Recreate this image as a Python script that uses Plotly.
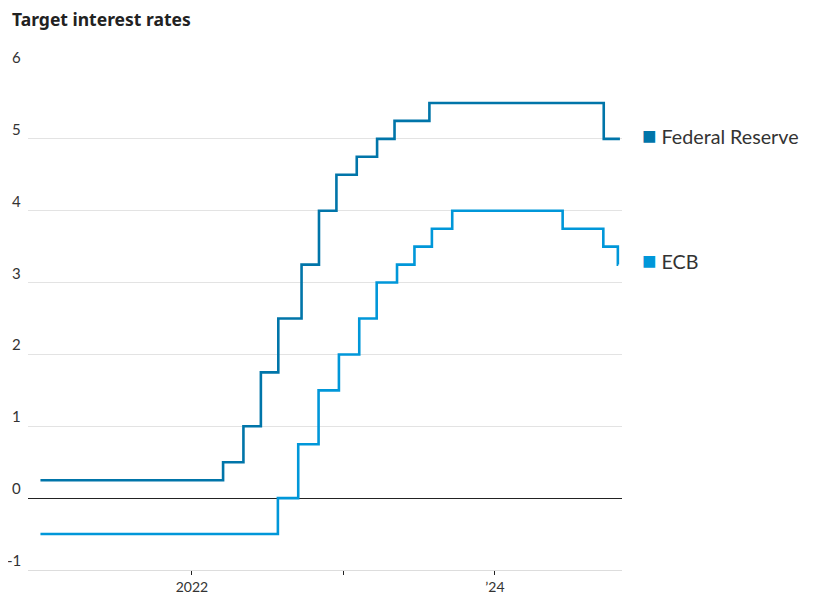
import plotly.graph_objects as go

fed_dates = ["2021-01-01", "2022-03-17", "2022-05-05", "2022-06-16", "2022-07-28",
             "2022-09-22", "2022-11-03", "2022-12-15", "2023-02-02", "2023-03-23",
             "2023-05-04", "2023-07-27", "2024-09-19", "2024-10-28"]
fed_rates = [0.25, 0.5, 1.0, 1.75, 2.5, 3.25, 4.0, 4.5, 4.75, 5.0, 5.25, 5.5, 5.0, 5.0]

ecb_dates = ["2021-01-01", "2022-07-27", "2022-09-14", "2022-11-02", "2022-12-21",
             "2023-02-08", "2023-03-22", "2023-05-10", "2023-06-21", "2023-08-02",
             "2023-09-20", "2024-06-12", "2024-09-18", "2024-10-23", "2024-10-24"]
ecb_rates = [-0.5, 0.0, 0.75, 1.5, 2.0, 2.5, 3.0, 3.25, 3.5, 3.75, 4.0, 3.75, 3.5, 3.25, 3.25]

y_ticks = [-1, 0, 1, 2, 3, 4, 5, 6]
x_tickvals = ["2022-01-01", "2023-01-01", "2024-01-01"]
x_ticktext = ["2022", "", "\u201924"]

FED_COLOR = "#0075a9"
ECB_COLOR = "#0097d9"

fig = go.Figure()
fig.add_trace(go.Scatter(x=fed_dates, y=fed_rates, mode="lines", name="Federal Reserve",
                         line=dict(color=FED_COLOR, width=2.6, shape="hv")))
fig.add_trace(go.Scatter(x=ecb_dates, y=ecb_rates, mode="lines", name="ECB",
                         line=dict(color=ECB_COLOR, width=2.6, shape="hv")))

annotations = []
for v in y_ticks:
    annotations.append(dict(xref="paper", yref="y", x=0, y=v, xshift=-5, yshift=-1,
                            xanchor="right", yanchor="bottom", showarrow=False,
                            text=str(v), font=dict(family="Lato", size=15, color="#333")))

annotations.append(dict(xref="paper", yref="y", x=1, y=fed_rates[-1], xshift=18, yshift=4,
                        xanchor="left", yanchor="middle", showarrow=False,
                        text=f'<span style="color:{FED_COLOR};font-size:24px">\u25A0</span> Federal Reserve',
                        font=dict(family="Lato", size=19.7, color="#333")))
annotations.append(dict(xref="paper", yref="y", x=1, y=ecb_rates[-1], xshift=18, yshift=5,
                        xanchor="left", yanchor="middle", showarrow=False,
                        text=f'<span style="color:{ECB_COLOR};font-size:24px">\u25A0</span> ECB',
                        font=dict(family="Lato", size=19.7, color="#333")))

fig.update_layout(
    width=821, height=616,
    margin=dict(l=20, r=207, t=59, b=54),
    plot_bgcolor="white", paper_bgcolor="white",
    showlegend=False,
    title=dict(text="<b>Target interest rates</b>", x=0, xref="paper", xanchor="left",
               y=0.99, yref="container", yanchor="top", pad=dict(l=-16),
               font=dict(family="Noto Sans", size=17.5, color="#222")),
    annotations=annotations,
    xaxis=dict(range=["2020-12-02", "2024-11-02"], tickvals=x_tickvals, ticktext=x_ticktext,
               showgrid=False, zeroline=False, showline=True, linecolor="#dddddd", linewidth=1,
               ticks="outside", ticklen=4, tickcolor="#222", tickwidth=1,
               tickfont=dict(family="Lato", size=14, color="#333")),
    yaxis=dict(range=[-1, 6], tickvals=y_ticks, showticklabels=False,
               showgrid=True, gridcolor="#e3e3e3", gridwidth=1,
               zeroline=True, zerolinecolor="#222", zerolinewidth=1.3,
               showline=False),
)

fig.write_html("out.html")
